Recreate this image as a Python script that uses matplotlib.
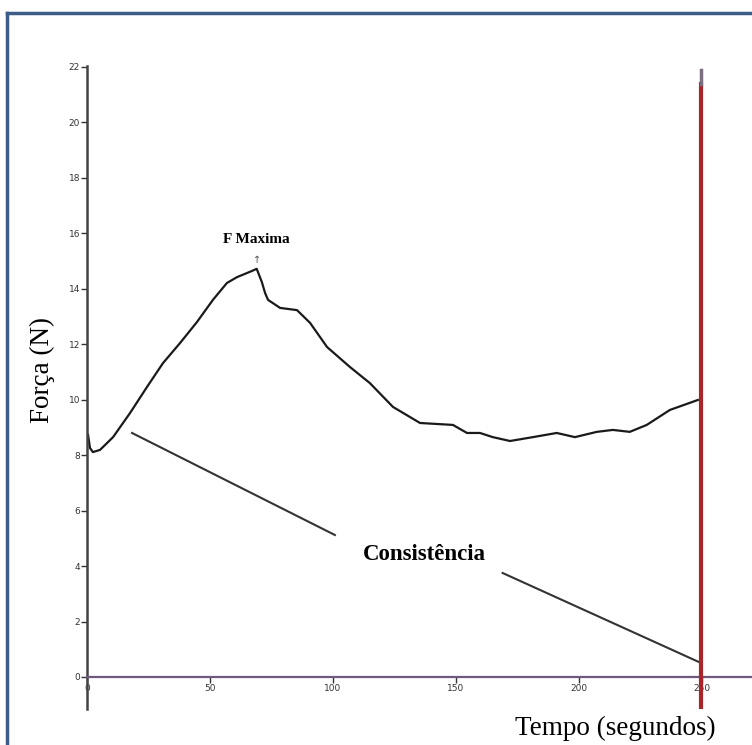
import matplotlib.pyplot as plt
from matplotlib.lines import Line2D

# curve: time (s) and force (N)
tempo = [0, 0.4, 1.2, 2.4, 5.3, 10.6, 17.5, 24.4, 30.9, 37.8, 44.7, 51.2, 56.9, 61, 67, 69,
         71.1, 72.4, 73.6, 78.5, 85.4, 90.7, 97.6, 106.9, 115, 124.4, 135.4, 148.8, 154.5,
         159.8, 165, 172, 181.3, 191, 198.4, 207.3, 213.8, 220.7, 227.6, 237, 248.4]
forca = [8.65, 8.75, 8.26, 8.11, 8.19, 8.65, 9.52, 10.46, 11.32, 12.04, 12.80, 13.60, 14.21,
         14.42, 14.64, 14.72, 14.24, 13.85, 13.60, 13.31, 13.23, 12.77, 11.90, 11.18, 10.60,
         9.74, 9.16, 9.09, 8.80, 8.80, 8.65, 8.51, 8.65, 8.80, 8.65, 8.84, 8.91, 8.84, 9.09,
         9.63, 9.99]

# annotation line (two pieces around the label)
cons_t1 = [18.3, 100.8]
cons_f1 = [8.80, 5.12]
cons_t2 = [169, 248.8]
cons_f2 = [3.75, 0.54]

x_ticks = [0, 50, 100, 150, 200, 250]
y_ticks = [0, 2, 4, 6, 8, 10, 12, 14, 16, 18, 20, 22]
t_fim = 249.5

fig = plt.figure(figsize=(7.52, 7.45), dpi=100)
ax = fig.add_axes([0.1157, 0.0485, 0.883, 0.8635])

ax.plot(tempo, forca, color="#1a1a1a", lw=1.6)
ax.plot(cons_t1, cons_f1, color="#333333", lw=1.5)
ax.plot(cons_t2, cons_f2, color="#333333", lw=1.5)
ax.plot([t_fim, t_fim], [-1.15, 21.4], color="#a8262a", lw=3, zorder=5)
ax.plot([t_fim, t_fim], [21.4, 21.9], color="#7a6f80", lw=2.5, zorder=5)

ax.text(69, 15.55, "F Maxima", ha="center", va="bottom", fontsize=11,
        fontweight="bold", family="Liberation Serif")
ax.text(69, 14.85, "\u2191", ha="center", va="bottom", fontsize=7, color="#555555")
ax.text(137, 4.4, "Consist\u00eancia", ha="center", va="center", fontsize=16.5,
        fontweight="bold", family="Liberation Serif")

ax.set_xlim(0, 270)
ax.set_ylim(-1.15, 22.05)
ax.set_xticks(x_ticks)
ax.set_yticks(y_ticks)
ax.tick_params(labelsize=6.5, length=4, width=1, colors="#333333", pad=1)

for s in ["top", "right"]:
    ax.spines[s].set_visible(False)
ax.spines["bottom"].set_position(("data", 0))
ax.spines["bottom"].set_color("#6d5a7e")
ax.spines["bottom"].set_linewidth(1.6)
ax.spines["left"].set_color("#444444")
ax.spines["left"].set_linewidth(1.8)

fig.text(0.056, 0.503, "For\u00e7a (N)", rotation=90, ha="center", va="center",
         fontsize=19.5, family="Liberation Serif")
fig.text(0.818, 0.022, "Tempo (segundos)", ha="center", va="center",
         fontsize=19.5, family="Liberation Serif")

# frame around the picture (top and left only visible)
fig.add_artist(Line2D([0.009, 1.0], [0.982, 0.982], transform=fig.transFigure,
                      color="#3d5c87", lw=2.5))
fig.add_artist(Line2D([0.009, 0.009], [0.0, 0.982], transform=fig.transFigure,
                      color="#3d5c87", lw=2.5))

fig.savefig("out.png", dpi=100)
